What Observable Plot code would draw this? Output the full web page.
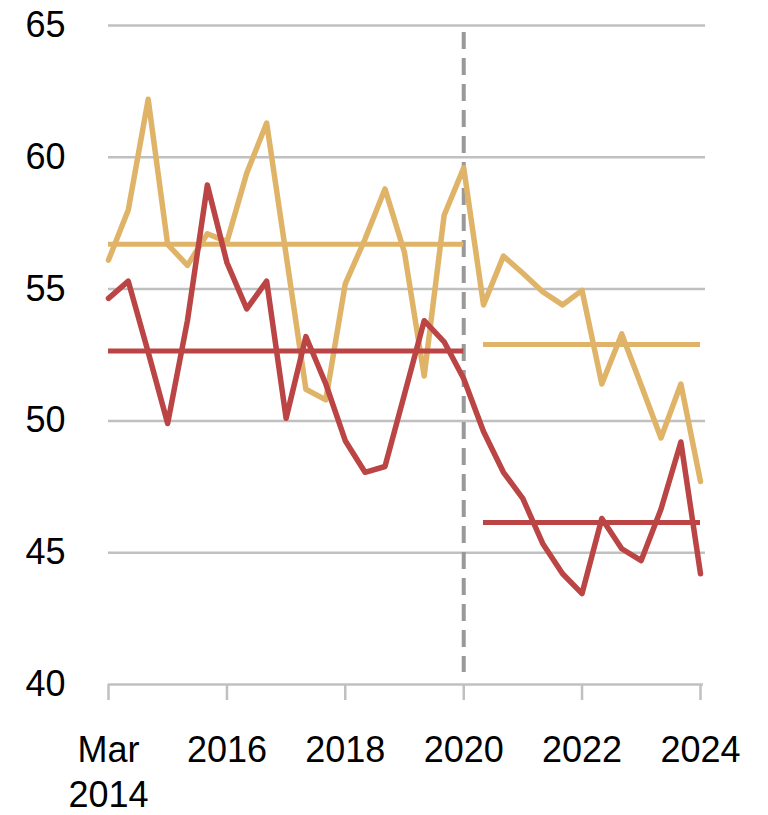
<!DOCTYPE html>
<html>
<head>
<meta charset="utf-8">
<script src="https://cdn.jsdelivr.net/npm/d3@7"></script>
<script src="https://cdn.jsdelivr.net/npm/@observablehq/plot@0.6"></script>
<style>
  html, body { margin: 0; padding: 0; background: #ffffff; }
</style>
</head>
<body>
<div id="chart"></div>
<script>
// Observations every four months, Mar 2014 .. Mar 2024 (31 points)
const startDate = new Date(Date.UTC(2014, 2, 1));
const stepMonths = 4;

// Tan series
const tanValues = [56.1, 58.0, 62.2, 56.7, 55.9, 57.1, 56.8, 59.4, 61.3, 56.3,
                   51.2, 50.8, 55.2, 56.9, 58.8, 56.4, 51.7, 57.8, 59.6, 54.4,
                   56.25, 55.6, 54.9, 54.4, 54.95, 51.4, 53.3, 51.35, 49.35, 51.4, 47.7];
// Red series
const redValues = [54.65, 55.3, 52.6, 49.9, 53.8, 58.95, 56.0, 54.25, 55.3, 50.1,
                   53.2, 51.4, 49.25, 48.05, 48.27, 51.0, 53.8, 53.0, 51.6, 49.6,
                   48.05, 47.05, 45.35, 44.2, 43.45, 46.3, 45.15, 44.7, 46.65, 49.2, 44.2];

// Period averages (start index, end index)
const periodStartIdx = [0, 19];
const periodEndIdx = [18, 30];
const tanMeans = [56.7, 52.9];
const redMeans = [52.65, 46.15];

// Break marker
const breakIdx = 18;

// Axes
const yTicks = [40, 45, 50, 55, 60, 65];
const xTickIdx = [0, 6, 12, 18, 24, 30];
const xTickLabels = ["Mar\n2014", "2016", "2018", "2020", "2022", "2024"];

const dateAt = i => d3.utcMonth.offset(startDate, i * stepMonths);
const tanData = tanValues.map((v, i) => ({date: dateAt(i), value: v}));
const redData = redValues.map((v, i) => ({date: dateAt(i), value: v}));
const meanData = (means) => means.map((m, k) => ({
  x1: dateAt(periodStartIdx[k]), x2: dateAt(periodEndIdx[k]), y: m
}));
const tickDates = xTickIdx.map(dateAt);
const labelMap = new Map(tickDates.map((d, i) => [+d, xTickLabels[i]]));

const TAN = "#dfb468";
const RED = "#bb4444";
const GRID = "#c0c0c0";

const chart = Plot.plot({
  width: 768,
  height: 815,
  marginLeft: 108,
  marginRight: 68,
  marginTop: 25,
  marginBottom: 131,
  style: {
    fontFamily: "'Liberation Sans', Arial, sans-serif",
    fontSize: "36px",
    color: "#000",
    background: "#fff"
  },
  x: {type: "utc", domain: [dateAt(0), dateAt(30)]},
  y: {domain: [40, 65]},
  marks: [
    Plot.gridY(yTicks.slice(1), {stroke: GRID, strokeOpacity: 1, strokeWidth: 2.5, insetRight: -5}),
    Plot.ruleY([40], {stroke: GRID, strokeWidth: 2.5, insetRight: -3}),
    Plot.axisY(yTicks, {tickSize: 0, tickPadding: 43, fontSize: 36, fill: "#000"}),
    Plot.axisX(tickDates, {
      tickSize: 16, stroke: GRID, strokeWidth: 2.5, tickPadding: 30,
      fontSize: 36, fill: "#000", lineHeight: 1.25,
      tickFormat: d => labelMap.get(+d)
    }),
    Plot.ruleX([dateAt(breakIdx)], {stroke: "#999999", strokeWidth: 4, strokeDasharray: "17,9", insetTop: 7, insetBottom: 12}),
    Plot.lineY(tanData, {x: "date", y: "value", stroke: TAN, strokeWidth: 5.5}),
    Plot.ruleY(meanData(tanMeans), {x1: "x1", x2: "x2", y: "y", stroke: TAN, strokeWidth: 5}),
    Plot.lineY(redData, {x: "date", y: "value", stroke: RED, strokeWidth: 5.5}),
    Plot.ruleY(meanData(redMeans), {x1: "x1", x2: "x2", y: "y", stroke: RED, strokeWidth: 5})
  ]
});
document.getElementById("chart").append(chart);
</script>
</body>
</html>
